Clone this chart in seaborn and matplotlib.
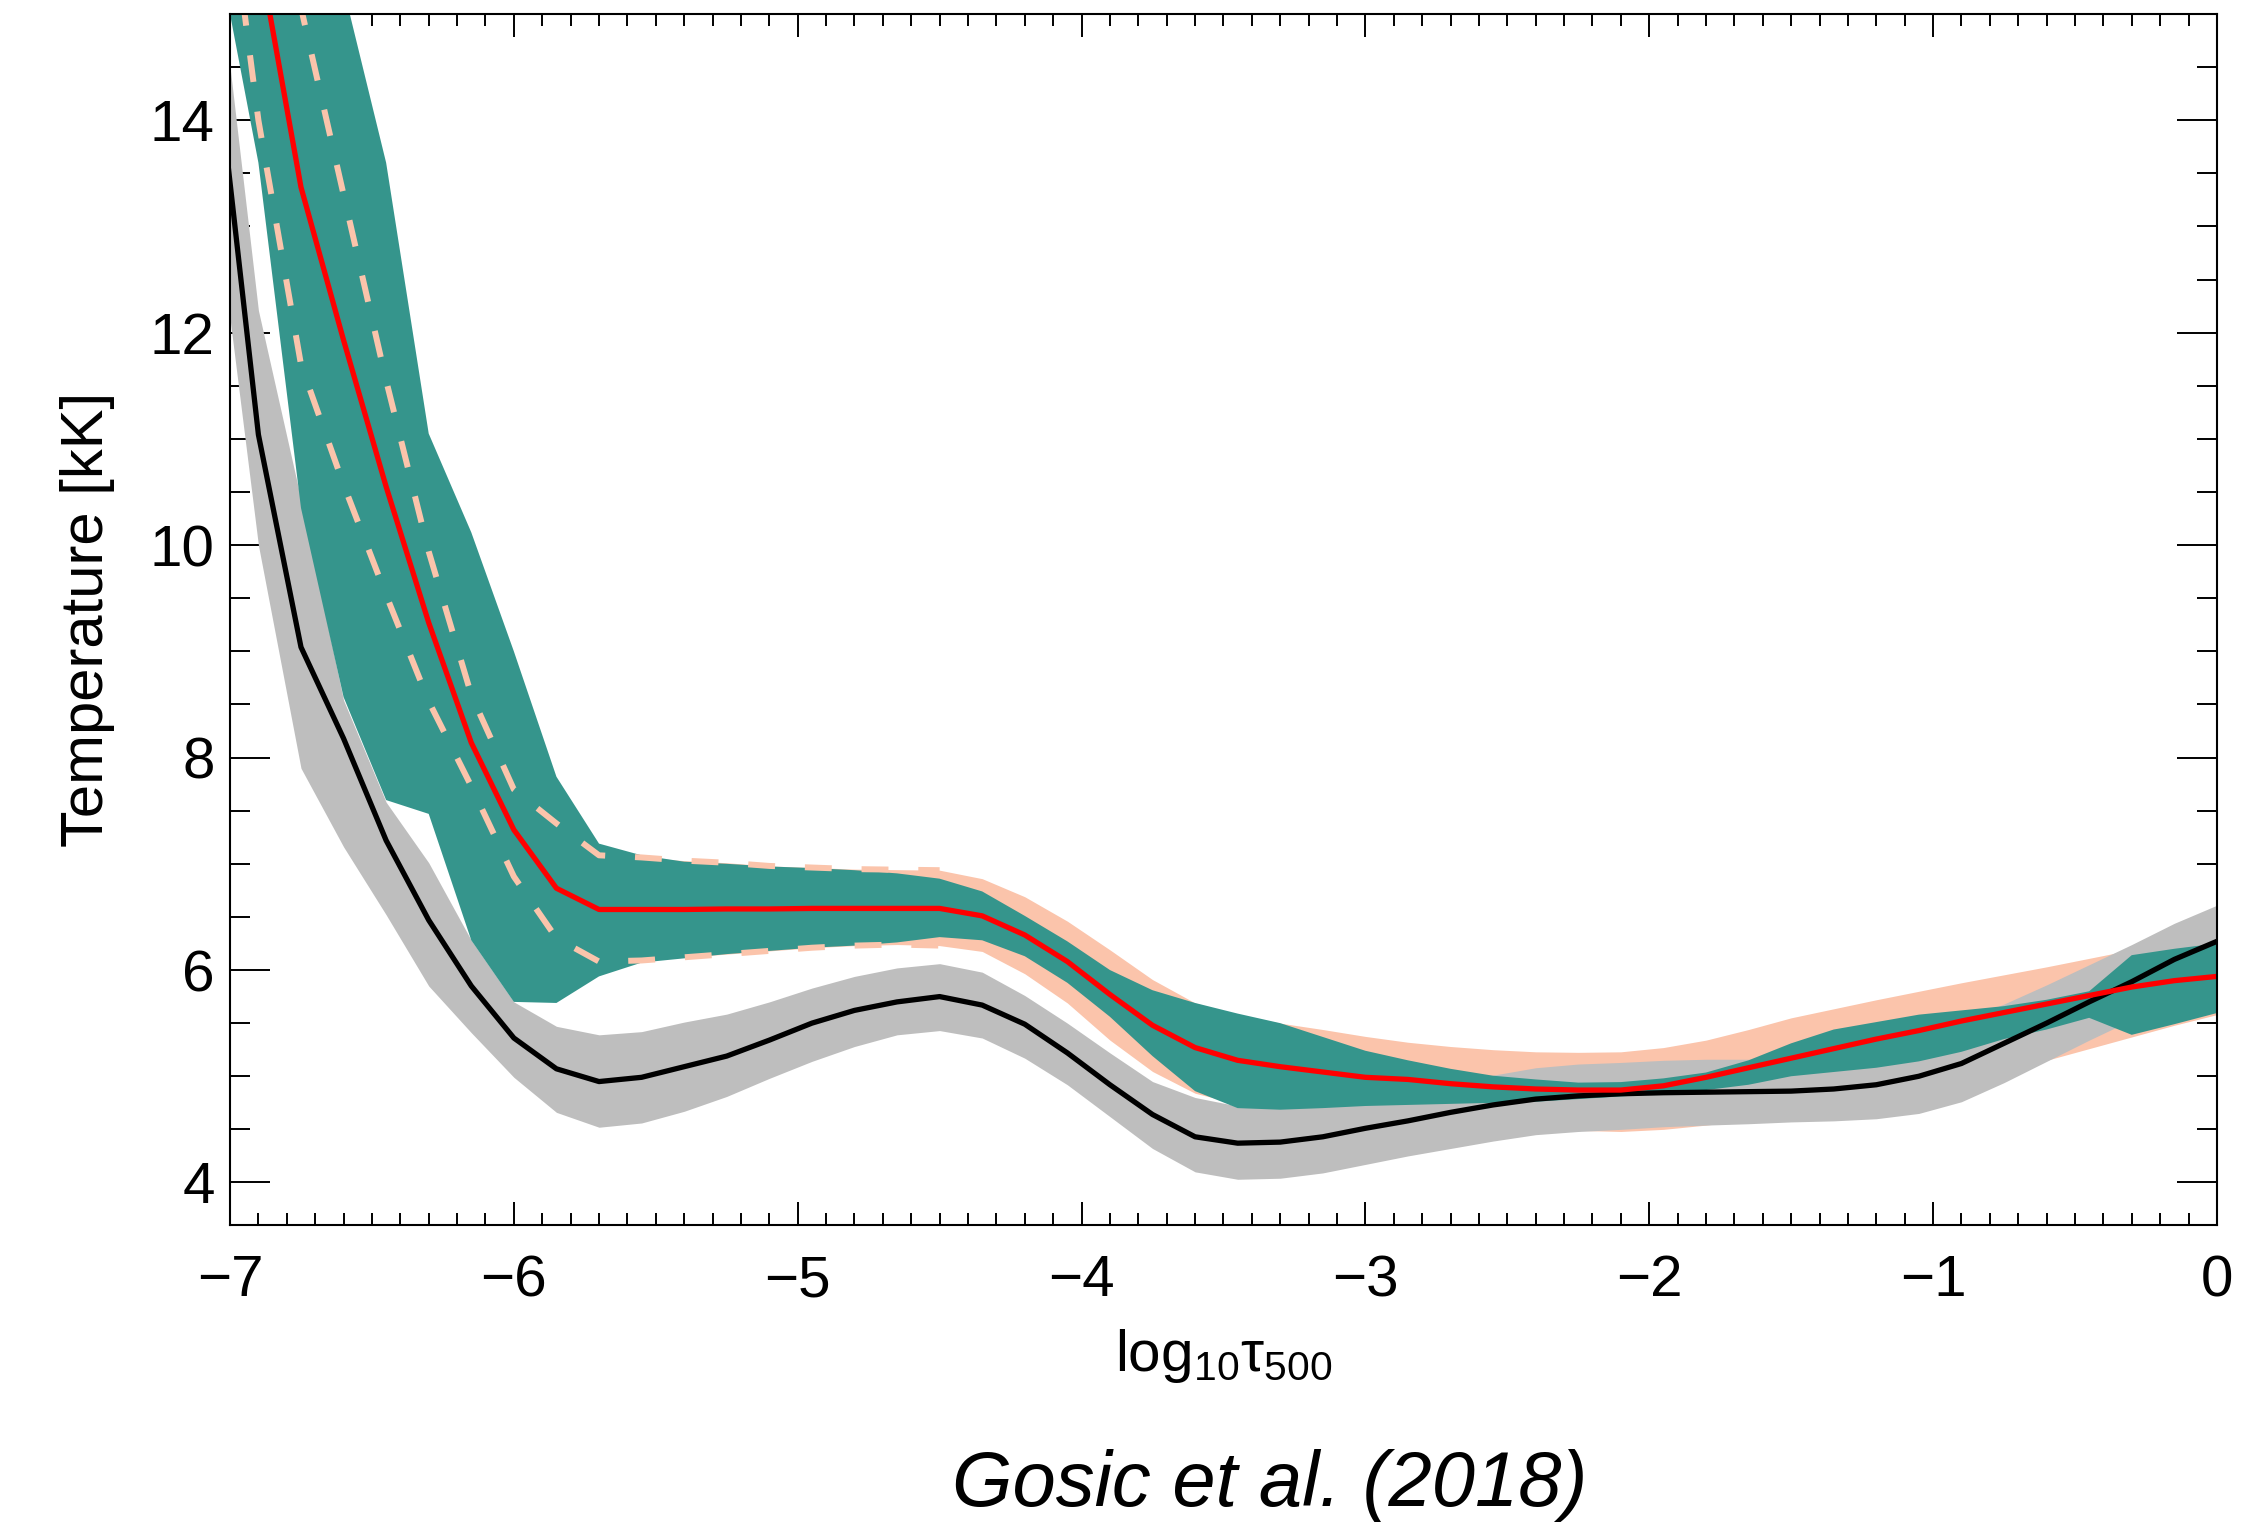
import matplotlib
matplotlib.use("Agg")
import matplotlib.pyplot as plt
from matplotlib.ticker import MultipleLocator
import seaborn as sns

# Optical-depth grid (log10 tau_500)
log_tau = [-7.05, -6.9, -6.75, -6.6, -6.45, -6.3, -6.15, -6.0, -5.85, -5.7,
           -5.55, -5.4, -5.25, -5.1, -4.95, -4.8, -4.65, -4.5, -4.35, -4.2,
           -4.05, -3.9, -3.75, -3.6, -3.45, -3.3, -3.15, -3.0, -2.85, -2.7,
           -2.55, -2.4, -2.25, -2.1, -1.95, -1.8, -1.65, -1.5, -1.35, -1.2,
           -1.05, -0.9, -0.75, -0.6, -0.45, -0.3, -0.15, 0.0]

# Mean temperature (black) and its spread (grey band), kK
t_black = [14.6, 11.04, 9.04, 8.18, 7.22, 6.47, 5.85, 5.36, 5.07, 4.95,
           4.99, 5.09, 5.19, 5.34, 5.50, 5.62, 5.70, 5.75, 5.67, 5.49,
           5.22, 4.92, 4.64, 4.43, 4.37, 4.38, 4.43, 4.51, 4.58, 4.66,
           4.73, 4.785, 4.815, 4.835, 4.845, 4.85, 4.855, 4.86, 4.88, 4.92,
           5.00, 5.12, 5.31, 5.50, 5.70, 5.89, 6.10, 6.27]
gray_hi = [15.65, 12.21, 10.43, 8.54, 7.58, 7.01, 6.28, 5.70, 5.47, 5.39,
           5.42, 5.51, 5.585, 5.70, 5.83, 5.94, 6.02, 6.06, 5.98, 5.76,
           5.50, 5.22, 4.95, 4.80, 4.72, 4.72, 4.76, 4.83, 4.89, 4.95,
           5.01, 5.08, 5.115, 5.13, 5.15, 5.16, 5.16, 5.17, 5.20, 5.26,
           5.38, 5.52, 5.68, 5.86, 6.05, 6.24, 6.44, 6.61]
gray_lo = [13.2, 10.0, 7.9, 7.16, 6.52, 5.85, 5.41, 4.99, 4.66, 4.52,
           4.56, 4.67, 4.81, 4.98, 5.14, 5.28, 5.39, 5.43, 5.36, 5.17,
           4.92, 4.62, 4.32, 4.10, 4.03, 4.04, 4.09, 4.17, 4.25, 4.32,
           4.39, 4.45, 4.48, 4.50, 4.525, 4.54, 4.553, 4.57, 4.58, 4.60,
           4.65, 4.76, 4.94, 5.14, 5.34, 5.53, 5.72, 5.89]

# Mean temperature (red) and its spread (teal band), kK
t_red = [17.8, 15.6, 13.37, 11.93, 10.55, 9.27, 8.14, 7.32, 6.77, 6.57,
         6.57, 6.57, 6.575, 6.575, 6.58, 6.58, 6.58, 6.58, 6.51, 6.33,
         6.08, 5.77, 5.48, 5.27, 5.15, 5.09, 5.04, 4.99, 4.97, 4.93,
         4.90, 4.88, 4.87, 4.87, 4.91, 4.99, 5.08, 5.17, 5.26, 5.35,
         5.43, 5.52, 5.60, 5.68, 5.76, 5.84, 5.90, 5.94]
teal_hi = [21.0, 19.0, 17.0, 15.24, 13.6, 11.05, 10.12, 9.0, 7.82, 7.19,
           7.08, 7.02, 7.00, 6.975, 6.96, 6.94, 6.91, 6.86, 6.74, 6.51,
           6.27, 6.00, 5.81, 5.69, 5.59, 5.50, 5.37, 5.24, 5.15, 5.07,
           5.005, 4.97, 4.94, 4.945, 4.98, 5.035, 5.15, 5.31, 5.44, 5.51,
           5.58, 5.62, 5.66, 5.72, 5.80, 6.14, 6.20, 6.25]
teal_lo = [15.7, 13.6, 10.35, 8.57, 7.60, 7.47, 6.28, 5.70, 5.69, 5.94,
           6.07, 6.11, 6.15, 6.18, 6.21, 6.23, 6.26, 6.31, 6.28, 6.13,
           5.88, 5.56, 5.19, 4.86, 4.70, 4.685, 4.70, 4.72, 4.73, 4.74,
           4.75, 4.76, 4.785, 4.81, 4.835, 4.87, 4.92, 5.00, 5.04, 5.08,
           5.14, 5.23, 5.35, 5.44, 5.55, 5.39, 5.49, 5.595]

# Second spread (salmon band), kK
salmon_hi = [18.6, 16.8, 15.06, 13.3, 11.55, 9.94, 8.59, 7.70, 7.38, 7.08,
             7.06, 7.03, 7.01, 6.98, 6.965, 6.95, 6.945, 6.94, 6.86, 6.69,
             6.46, 6.19, 5.91, 5.69, 5.58, 5.50, 5.44, 5.375, 5.32, 5.28,
             5.25, 5.23, 5.225, 5.23, 5.27, 5.34, 5.44, 5.55, 5.635, 5.72,
             5.80, 5.88, 5.955, 6.03, 6.11, 6.19, 6.25, 6.30]
salmon_lo = [17.1, 14.0, 11.7, 10.57, 9.53, 8.53, 7.73, 6.88, 6.30, 6.08,
             6.09, 6.12, 6.15, 6.18, 6.21, 6.23, 6.24, 6.23, 6.175, 5.965,
             5.69, 5.34, 5.045, 4.84, 4.74, 4.68, 4.63, 4.60, 4.57, 4.55,
             4.53, 4.51, 4.49, 4.48, 4.50, 4.54, 4.59, 4.65, 4.71, 4.78,
             4.85, 4.94, 5.04, 5.15, 5.26, 5.37, 5.48, 5.58]

# number of grid points (up to log tau = -4.5) where the salmon edges are dashed
n_dashed = 18

x_ticks = [-7, -6, -5, -4, -3, -2, -1, 0]
y_ticks = [4, 6, 8, 10, 12, 14]

C_SALMON = "#FBC4AB"
C_GRAY = "#BEBEBE"
C_TEAL = "#35958C"

sns.set_theme(style="ticks")
plt.rcParams["font.family"] = ["Liberation Sans", "DejaVu Sans"]
plt.rcParams["mathtext.fontset"] = "custom"
plt.rcParams["mathtext.rm"] = "Liberation Sans"
plt.rcParams["mathtext.it"] = "Liberation Sans:italic"
plt.rcParams["axes.unicode_minus"] = True

fig = plt.figure(figsize=(22.42, 15.27), dpi=100)
ax = fig.add_axes([0.1026, 0.1978, 0.8862, 0.7930])

ax.fill_between(log_tau, salmon_lo, salmon_hi, color=C_SALMON, lw=0, zorder=1)
ax.fill_between(log_tau, gray_lo, gray_hi, color=C_GRAY, lw=0, zorder=2)
ax.fill_between(log_tau, teal_lo, teal_hi, color=C_TEAL, lw=0, zorder=3)

dash_style = (0, (4.5, 5.0))
sns.lineplot(x=log_tau[:n_dashed], y=salmon_hi[:n_dashed], ax=ax, color=C_SALMON,
             linewidth=4.3, linestyle=dash_style, zorder=4)
sns.lineplot(x=log_tau[:n_dashed], y=salmon_lo[:n_dashed], ax=ax, color=C_SALMON,
             linewidth=4.3, linestyle=dash_style, zorder=4)
sns.lineplot(x=log_tau, y=t_black, ax=ax, color="black", linewidth=3.8, zorder=5)
sns.lineplot(x=log_tau, y=t_red, ax=ax, color="#FF0000", linewidth=3.8, zorder=6)

ax.set_xlim(-7, 0)
ax.set_ylim(3.6, 15)
ax.set_xticks(x_ticks)
ax.set_yticks(y_ticks)
ax.xaxis.set_minor_locator(MultipleLocator(0.1))
ax.yaxis.set_minor_locator(MultipleLocator(0.5))

ax.tick_params(which="both", direction="in", top=True, right=True,
               width=1.4, color="black", labelsize=42, labelcolor="black")
ax.xaxis.set_tick_params(which="major", length=16.6, pad=21)
ax.xaxis.set_tick_params(which="minor", length=8.6)
ax.yaxis.set_tick_params(which="major", length=28.8, pad=11)
ax.yaxis.set_tick_params(which="minor", length=14.4)
for side in ax.spines.values():
    side.set_visible(True)
    side.set_color("black")
    side.set_linewidth(1.5)
    side.set_zorder(10)

ax.set_ylabel("Temperature [kK]", fontsize=43, color="black")
ax.yaxis.set_label_coords(-0.058, 0.5)
ax.set_xlabel(r"log$_\mathregular{10}$τ$_\mathregular{500}$", fontsize=42, color="black")
ax.xaxis.set_label_coords(0.5, -0.084)

fig.text(0.5665, 0.0137, "Gosic et al. (2018)", ha="center", va="baseline",
         fontsize=56, style="italic", color="black")

fig.savefig("out.png", dpi=100, facecolor="white")
